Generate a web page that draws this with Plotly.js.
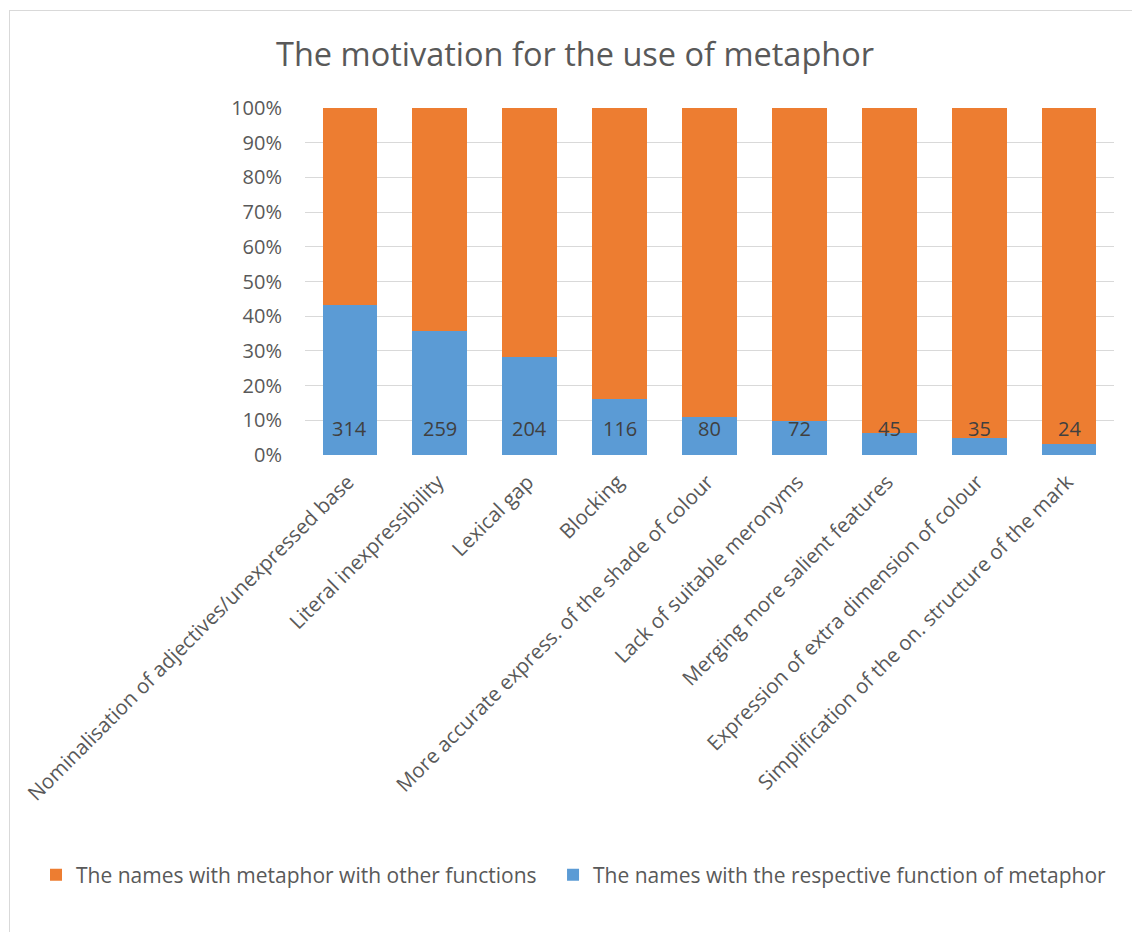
<!DOCTYPE html>
<html>
<head>
<meta charset="utf-8">
<script src="https://cdn.plot.ly/plotly-3.0.1.min.js"></script>
<style>
html,body{margin:0;padding:0;background:#fff;}
#frame{position:absolute;left:9px;top:10px;width:1200px;height:1000px;border:1px solid #d9d9d9;}
#chart{position:absolute;left:0;top:0;width:1132px;height:932px;}
</style>
</head>
<body>
<div id="frame"></div>
<div id="chart"></div>
<script>
const categories = [
  "Nominalisation of adjectives/unexpressed base",
  "Literal inexpressibility",
  "Lexical gap",
  "Blocking",
  "More accurate express. of the shade of colour",
  "Lack of suitable meronyms",
  "Merging more salient features",
  "Expression of extra dimension of colour",
  "Simplification of the on. structure of the mark"
];
const respectiveFunction = [314, 259, 204, 116, 80, 72, 45, 35, 24];
const otherFunctions = [411, 466, 521, 609, 645, 653, 680, 690, 701];
const seriesNames = [
  "The names with the respective function of metaphor",
  "The names with metaphor with other functions"
];
const yTicks = [0,10,20,30,40,50,60,70,80,90,100];
const yTickLabels = ["0%","10%","20%","30%","40%","50%","60%","70%","80%","90%","100%"];

const font = "Open Sans, sans-serif";
const gray = "#595959";

const traces = [
  {type:"bar", x:categories, y:respectiveFunction, name:seriesNames[0], legend:"legend2",
   marker:{color:"#5B9BD5"}, hoverinfo:"x+y+name"},
  {type:"bar", x:categories, y:otherFunctions, name:seriesNames[1], legend:"legend",
   marker:{color:"#ED7D31"}, hoverinfo:"x+y+name"}
];

const annotations = categories.map((c,i)=>({
  x:c, y:0, xref:"x", yref:"y", text:String(respectiveFunction[i]),
  showarrow:false, yanchor:"bottom", yshift:11,
  font:{family:font, size:20, color:"#404040"}
}));

const legendCommon = {orientation:"h", xref:"paper", yref:"paper", xanchor:"left",
  y:-1.2104, yanchor:"middle", font:{family:font, size:21, color:gray}, itemwidth:30};

const layout = {
  width:1132, height:932,
  paper_bgcolor:"rgba(0,0,0,0)", plot_bgcolor:"rgba(0,0,0,0)",
  margin:{l:305, r:18, t:108, b:477},
  barmode:"stack", barnorm:"percent", bargap:0.39,
  title:{text:"The motivation for the use of metaphor", x:0.508, xref:"container", y:0.941, yref:"container", yanchor:"middle",
         font:{family:font, size:32.5, color:gray}},
  xaxis:{tickangle:-45, tickfont:{family:font, size:20.5, color:gray}, showgrid:false,
         showline:false, ticks:"", automargin:false, ticklabelshift:-2, ticklabelstandoff:10},
  yaxis:{range:[0,100], tickvals:yTicks, ticktext:yTickLabels, tickfont:{family:font, size:20, color:gray},
         showgrid:true, gridcolor:"#d9d9d9", gridwidth:1, zeroline:false, showline:false, ticks:"",
         ticklabelstandoff:22, automargin:false, fixedrange:true},
  showlegend:true,
  legend:Object.assign({}, legendCommon, {x:-0.3325}),
  legend2:Object.assign({}, legendCommon, {x:0.3066}),
  annotations:annotations
};

Plotly.newPlot("chart", traces, layout, {displayModeBar:false, staticPlot:true});
</script>
</body>
</html>
